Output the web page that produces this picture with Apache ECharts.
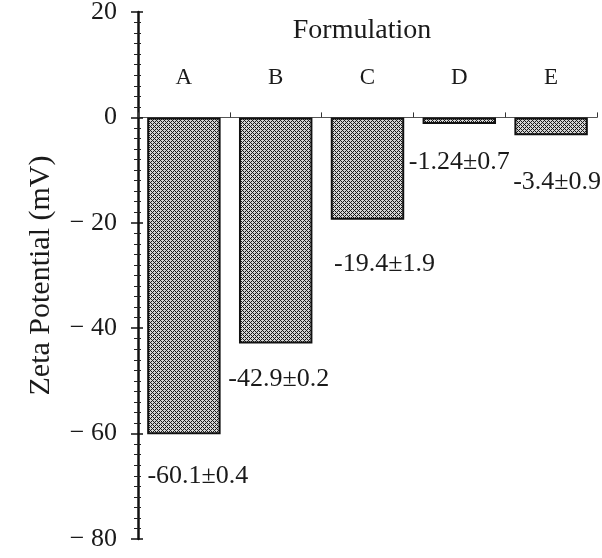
<!DOCTYPE html>
<html>
<head>
<meta charset="utf-8">
<script src="https://cdn.jsdelivr.net/npm/echarts@6/dist/echarts.min.js"></script>
<style>
  html, body { margin: 0; padding: 0; background: #fff; }
  #chart { width: 602px; height: 558px; }
</style>
</head>
<body>
<div id="chart"></div>
<script>
// Zeta potential per formulation (mV), with the measured spread
const categories = ['A', 'B', 'C', 'D', 'E'];
const zeta = [-60.1, -42.9, -19.4, -1.24, -3.4];
const spread = [0.4, 0.2, 1.9, 0.7, 0.9];
const yTicks = [20, 0, -20, -40, -60, -80];

// Where each value label sits relative to the end of its bar (px)
const labelShift = [[14, 24], [3, 18], [17, 27], [0, 20], [6, 29]];

const FONT = '"Liberation Serif", "DejaVu Serif", serif';

// Dense diagonal cross-hatch fill for the bars
function hatch() {
  const n = 4;
  const c = document.createElement('canvas');
  c.width = n; c.height = n;
  const g = c.getContext('2d');
  g.fillStyle = '#d4d4d4';
  g.fillRect(0, 0, n, n);
  g.fillStyle = '#1a1a1a';
  for (let x = 0; x < n; x++) {
    for (let y = 0; y < n; y++) {
      if ((x + y) % n === 0 || (x - y + n) % n === 0) g.fillRect(x, y, 1, 1);
    }
  }
  return c;
}
const pattern = { image: hatch(), repeat: 'repeat' };

const chart = echarts.init(document.getElementById('chart'));

const barData = zeta.map((v, i) => ({
  value: v,
  label: {
    offset: labelShift[i],
    formatter: () => String(v) + '\u00b1' + String(spread[i])
  }
}));

function yLabel(v) {
  if (!yTicks.includes(v)) return '';
  return v < 0 ? '\u2212 ' + Math.abs(v) : String(v);
}

chart.setOption({
  animation: false,
  backgroundColor: '#fff',
  textStyle: { fontFamily: FONT, color: '#1a1a1a' },
  title: {
    text: 'Formulation',
    left: 357,
    top: 12,
    textAlign: 'center',
    textStyle: { fontFamily: FONT, fontWeight: 'normal', fontSize: 28, color: '#1a1a1a' }
  },
  grid: { left: 138, right: 5, top: 12, bottom: 19, containLabel: false, outerBoundsMode: 'none' },
  xAxis: [{
    // baseline through zero, with small ticks between formulations
    type: 'category',
    data: categories,
    position: 'top',
    boundaryGap: true,
    axisLine: { onZero: true, lineStyle: { color: '#555', width: 1.2 } },
    axisTick: { show: true, length: 5, lineStyle: { color: '#333', width: 1 } },
    axisLabel: { show: false },
    splitLine: { show: false }
  }, {
    // formulation letters above the baseline
    type: 'category',
    data: categories,
    position: 'top',
    boundaryGap: true,
    axisLine: { show: false, onZero: false },
    axisTick: { show: false },
    axisLabel: { margin: -77, fontFamily: FONT, fontSize: 23, color: '#1a1a1a', verticalAlign: 'bottom' },
    splitLine: { show: false }
  }],
  yAxis: [{
    type: 'value',
    min: -80,
    max: 20,
    interval: 20,
    name: 'Zeta Potential (mV)',
    nameLocation: 'middle',
    nameGap: 82,
    nameTextStyle: { fontFamily: FONT, fontSize: 30, color: '#1a1a1a' },
    axisLine: { show: true, lineStyle: { color: '#111', width: 2.5 } },
    axisTick: { show: true, length: 7, lineStyle: { color: '#111', width: 1.5 } },
    minorTick: { show: true, splitNumber: 10, length: 4, lineStyle: { color: '#222', width: 1 } },
    axisLabel: { margin: 21, fontFamily: FONT, fontSize: 26, color: '#1a1a1a', formatter: yLabel },
    splitLine: { show: false }
  }, {
    type: 'value',
    min: -80,
    max: 20,
    interval: 20,
    position: 'left',
    axisLine: { show: false },
    axisTick: { show: true, inside: true, length: 5, lineStyle: { color: '#111', width: 1.5 } },
    minorTick: { show: true, splitNumber: 10, length: 3, lineStyle: { color: '#222', width: 1 } },
    axisLabel: { show: false },
    splitLine: { show: false }
  }],
  series: [{
    type: 'bar',
    data: barData,
    barWidth: '80%',
    itemStyle: { color: pattern, borderColor: '#111', borderWidth: 2 },
    label: {
      show: true,
      position: 'bottom',
      fontFamily: FONT,
      fontSize: 26,
      color: '#1a1a1a'
    }
  }]
});
</script>
</body>
</html>
